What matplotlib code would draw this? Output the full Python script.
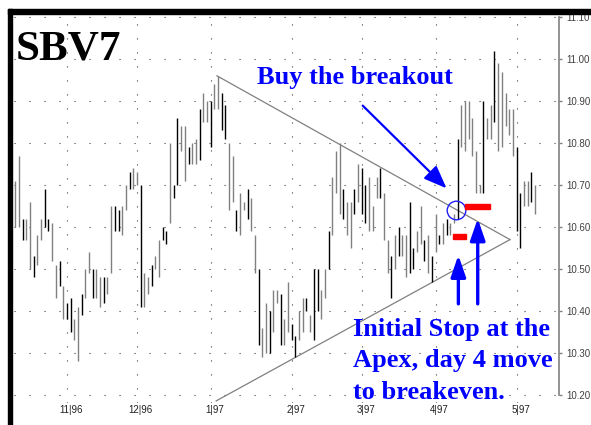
import matplotlib
matplotlib.use('Agg')
import matplotlib.pyplot as plt
from matplotlib.patches import Rectangle
import matplotlib.transforms as mtransforms

# daily high / low, one entry per trading day
highs = [10.71, 10.77, 10.62, 10.62, 10.66, 10.53, 10.58, 10.62, 10.69, 10.62,
         10.61, 10.51, 10.52, 10.46, 10.42, 10.43, 10.38, 10.41, 10.44, 10.50,
         10.54, 10.50, 10.50, 10.48, 10.48, 10.48, 10.65, 10.65, 10.64, 10.65,
         10.70, 10.73, 10.74, 10.73, 10.70, 10.49, 10.48, 10.51, 10.53, 10.57,
         10.60, 10.59, 10.80, 10.70, 10.86, 10.84, 10.84, 10.79, 10.80, 10.81,
         10.88, 10.92, 10.90, 10.90, 10.94, 10.96, 10.92, 10.89, 10.80, 10.77,
         10.64, 10.68, 10.66, 10.69, 10.67, 10.58, 10.50, 10.36, 10.42, 10.40,
         10.45, 10.45, 10.44, 10.38, 10.47, 10.37, 10.34, 10.40, 10.43, 10.43,
         10.39, 10.50, 10.50, 10.45, 10.50, 10.59, 10.72, 10.78, 10.80, 10.69,
         10.66, 10.66, 10.69, 10.75, 10.74, 10.70, 10.72, 10.65, 10.72, 10.74,
         10.68, 10.57, 10.53, 10.58, 10.60, 10.58, 10.58, 10.66, 10.55, 10.59,
         10.65, 10.57, 10.58, 10.53, 10.63, 10.58, 10.61, 10.62, 10.61, 10.63,
         10.81, 10.89, 10.90, 10.90, 10.86, 10.78, 10.70, 10.90, 10.86, 10.89,
         11.02, 10.99, 10.97, 10.92, 10.88, 10.88, 10.79, 10.68, 10.71, 10.71,
         10.73, 10.70]
lows = [10.60, 10.60, 10.57, 10.57, 10.50, 10.48, 10.51, 10.57, 10.60, 10.59,
        10.52, 10.43, 10.46, 10.38, 10.38, 10.35, 10.33, 10.28, 10.39, 10.43,
        10.49, 10.43, 10.43, 10.41, 10.42, 10.44, 10.49, 10.59, 10.59, 10.58,
        10.64, 10.69, 10.69, 10.70, 10.41, 10.41, 10.44, 10.46, 10.50, 10.48,
        10.57, 10.56, 10.61, 10.67, 10.70, 10.78, 10.71, 10.75, 10.75, 10.75,
        10.76, 10.85, 10.85, 10.79, 10.88, 10.88, 10.83, 10.81, 10.64, 10.66,
        10.59, 10.58, 10.64, 10.62, 10.59, 10.49, 10.32, 10.29, 10.30, 10.30,
        10.35, 10.42, 10.32, 10.32, 10.35, 10.33, 10.29, 10.33, 10.35, 10.40,
        10.35, 10.33, 10.40, 10.38, 10.43, 10.50, 10.58, 10.68, 10.63, 10.62,
        10.58, 10.55, 10.63, 10.66, 10.63, 10.61, 10.59, 10.59, 10.67, 10.67,
        10.57, 10.49, 10.43, 10.50, 10.53, 10.53, 10.48, 10.49, 10.50, 10.54,
        10.56, 10.52, 10.49, 10.47, 10.54, 10.56, 10.56, 10.58, 10.58, 10.61,
        10.62, 10.79, 10.78, 10.81, 10.77, 10.68, 10.68, 10.68, 10.81, 10.81,
        10.85, 10.78, 10.79, 10.84, 10.82, 10.77, 10.59, 10.55, 10.65, 10.65,
        10.66, 10.63]
# g = grey bar, k = black bar
bar_kind = list("ggkggkggkk" "ggkgkkggkg" "gkggkggkkg" "gkggkggkgg"
                "kkgkkggkgg" "kggkggkkgg" "kggkggkggk" "ggkggkkggk"
                "gkkggkgggk" "ggkgkkgggk" "ggkgkggkkg" "gkgkgkgkgg"
                "kggggggkgg" "kggggg" "kkgg" "kg")

month_pos = [14, 33, 53, 75, 94, 114, 136]
month_labels = ['11|96', '12|96', '1|97', '2|97', '3|97', '4|97', '5|97']
price_ticks = [10.20, 10.30, 10.40, 10.50, 10.60, 10.70, 10.80, 10.90, 11.00, 11.10]

# triangle: (bar index, price) end points
upper_line = ([54.7, 134.2], [10.96, 10.57])
lower_line = ([54.5, 134.2], [10.186, 10.57])

W, H = 591, 425
fig = plt.figure(figsize=(W / 100, H / 100), dpi=100)
fig.patch.set_facecolor('white')

def fx(x):
    return x / W

def fy(y):
    return 1 - y / H

ax = fig.add_axes([fx(14), fy(403), fx(559) - fx(14), fy(13) - fy(403)])
ax.set_xlim(-0.35, 147.5)
ax.set_ylim(10.181, 11.1095)

# price bars
x = list(range(len(highs)))
cols = ['#808080' if k == 'g' else 'black' for k in bar_kind]
ax.vlines(x, lows, highs, colors=cols, lw=1.0, zorder=3)

# triangle lines
ax.plot(*upper_line, color='#808080', lw=0.9, zorder=2)
ax.plot(*lower_line, color='#808080', lw=0.9, zorder=2, clip_on=False)

# dotted grid
ax.set_yticks(price_ticks)
ax.set_xticks(month_pos)
ax.yaxis.grid(True, color='#404040', lw=0.8, ls=(0, (1, 12.5)))
ax.xaxis.grid(True, color='#404040', lw=0.8, ls=(0, (1, 11.6)))
ax.set_axisbelow(True)

for s in ['left', 'top', 'bottom']:
    ax.spines[s].set_visible(False)
ax.spines['right'].set_bounds(10.20, 11.10)
ax.spines['right'].set_color('#808080')
ax.spines['right'].set_linewidth(1.2)
ax.yaxis.tick_right()
ax.set_yticklabels([f'{p:.2f}' for p in price_ticks])
ax.tick_params(axis='y', length=2, width=1, color='#808080', pad=3.3,
               labelsize=7, labelcolor='#404040')
ax.set_xticklabels(month_labels)
ax.tick_params(axis='x', length=0, pad=1.2, labelsize=7, labelcolor='#202020')
shift = mtransforms.ScaledTranslation(4 / 100, 0, fig.dpi_scale_trans)
for lab in ax.get_xticklabels() + ax.get_yticklabels():
    lab.set_family('Liberation Sans')
for lab in ax.get_xticklabels():
    lab.set_transform(lab.get_transform() + shift)

# breakout circle and stop levels
ax.plot([119.5], [10.640], marker='o', ms=13.4, mfc='none', mec='#2020ff', mew=1.0, zorder=5)
ax.add_patch(Rectangle((121.99, 10.642), 6.8, 0.013, color='#ff0000', zorder=5))
ax.add_patch(Rectangle((118.7, 10.571), 3.6, 0.012, color='#ff0000', zorder=5))

# arrows
blue = '#0000ff'
ax.annotate('', xy=(117.0, 10.692), xytext=(94.25, 10.889),
            arrowprops=dict(arrowstyle='-|>,head_length=1.4,head_width=0.55',
                            mutation_scale=10, lw=1.6, color=blue,
                            shrinkA=0, shrinkB=0), zorder=6)
for ax_x, tip in [(120.2, 10.533), (125.45, 10.620)]:
    ax.annotate('', xy=(ax_x, tip), xytext=(ax_x, 10.417),
                arrowprops=dict(arrowstyle='-|>,head_length=1.3,head_width=0.45',
                                mutation_scale=10, lw=2.4, color=blue,
                                shrinkA=0, shrinkB=0), zorder=6)

# texts
serif = 'Liberation Serif'
fig.text(fx(16), fy(59), 'SBV7', fontsize=31, weight='bold', family=serif,
         color='black', va='baseline')
fig.text(fx(257), fy(84), 'Buy the breakout', fontsize=19, weight='bold',
         family=serif, color=blue, va='baseline')
note = ['Initial Stop at the', 'Apex, day 4 move', 'to breakeven.']
for i, line in enumerate(note):
    fig.text(fx(352.7), fy(336 + 31.5 * i), line, fontsize=19, weight='bold',
             family=serif, color=blue, va='baseline')

# black L-shaped frame
fig.add_artist(Rectangle((fx(7.5), 0), fx(4.5), fy(9.3), transform=fig.transFigure,
                         color='black', zorder=20))
fig.add_artist(Rectangle((fx(7.5), fy(14)), 1 - fx(7.5), 4.7 / H,
                         transform=fig.transFigure, color='black', zorder=20))

fig.savefig('out.png', dpi=100)
